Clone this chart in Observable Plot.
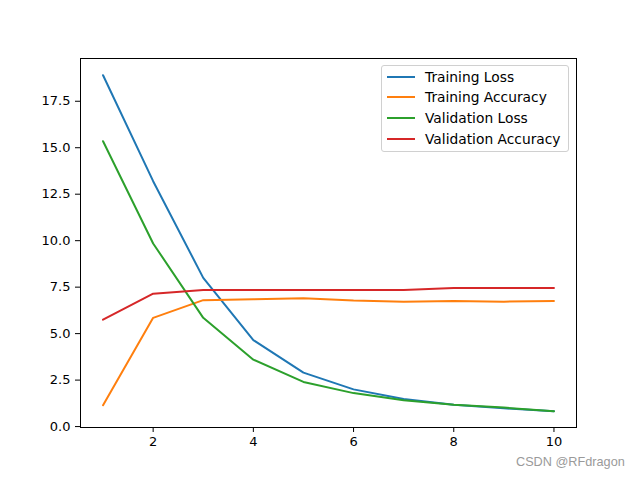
<!DOCTYPE html>
<html>
<head>
<meta charset="utf-8">
<script src="https://cdn.jsdelivr.net/npm/d3@7"></script>
<script src="https://cdn.jsdelivr.net/npm/@observablehq/plot@0.6"></script>
<style>
  html, body { margin: 0; padding: 0; background: #fff; }
  #wrap { position: relative; width: 640px; height: 480px; font-family: "DejaVu Sans", sans-serif; }
  #legend { position: absolute; left: 381px; top: 65px; width: 188px; height: 87px; box-sizing: border-box;
            border: 1px solid #d0d0d0; border-radius: 3px; background: rgba(255,255,255,0.8); }
  .row { position: absolute; left: 0; height: 20px; display: flex; align-items: center; font-size: 13.8px; color: #000; white-space: nowrap; }
  .row svg { margin-left: 5px; margin-right: 10px; }
  #mark { position: absolute; left: 516px; top: 455px; font-family: "Liberation Sans", sans-serif; font-size: 12.7px; color: #9a9a9a; }
</style>
</head>
<body>
<div id="wrap"><div id="chart"></div><div id="legend"></div><div id="mark">CSDN @RFdragon</div></div>
<script>
const epochs = [1, 2, 3, 4, 5, 6, 7, 8, 9, 10];
const trainingLoss = [18.9, 13.2, 8.0, 4.65, 2.9, 2.0, 1.48, 1.18, 0.98, 0.83];
const trainingAccuracy = [1.15, 5.85, 6.8, 6.85, 6.9, 6.78, 6.72, 6.75, 6.72, 6.75];
const validationLoss = [15.35, 9.85, 5.85, 3.6, 2.4, 1.8, 1.42, 1.18, 1.02, 0.83];
const validationAccuracy = [5.75, 7.15, 7.35, 7.35, 7.35, 7.35, 7.35, 7.45, 7.45, 7.45];
const seriesNames = ["Training Loss", "Training Accuracy", "Validation Loss", "Validation Accuracy"];
const seriesColors = ["#1f77b4", "#ff7f0e", "#2ca02c", "#d62728"];
const yTicks = [0, 2.5, 5, 7.5, 10, 12.5, 15, 17.5];
const xTicks = [2, 4, 6, 8, 10];

const seriesValues = [trainingLoss, trainingAccuracy, validationLoss, validationAccuracy];
const rows = [];
seriesNames.forEach((name, i) => {
  epochs.forEach((e, j) => rows.push({series: name, epoch: e, value: seriesValues[i][j]}));
});

const chart = Plot.plot({
  width: 640,
  height: 480,
  marginLeft: 80,
  marginRight: 64,
  marginTop: 58,
  marginBottom: 53,
  style: {fontFamily: "DejaVu Sans, sans-serif", fontSize: "13px", color: "#000", background: "#fff"},
  x: {domain: [0.55, 10.45], ticks: xTicks, tickFormat: d => String(d), tickSize: 5, tickPadding: 4, label: null},
  y: {domain: [-0.05, 19.8], ticks: yTicks, tickFormat: d => d.toFixed(1), tickSize: 5, tickPadding: 5, label: null},
  color: {domain: seriesNames, range: seriesColors},
  marks: [
    Plot.line(rows, {x: "epoch", y: "value", z: "series", stroke: "series", strokeWidth: 2}),
    Plot.frame({stroke: "#000", strokeWidth: 1})
  ]
});
document.getElementById("chart").appendChild(chart);

const legend = document.getElementById("legend");
seriesNames.forEach((name, i) => {
  const row = document.createElement("div");
  row.className = "row";
  row.style.top = (0.5 + i * 20.9) + "px";
  row.innerHTML = `<svg width="28" height="4"><line x1="0" x2="28" y1="2" y2="2" stroke="${seriesColors[i]}" stroke-width="2"/></svg><span>${name}</span>`;
  legend.appendChild(row);
});
</script>
</body>
</html>
